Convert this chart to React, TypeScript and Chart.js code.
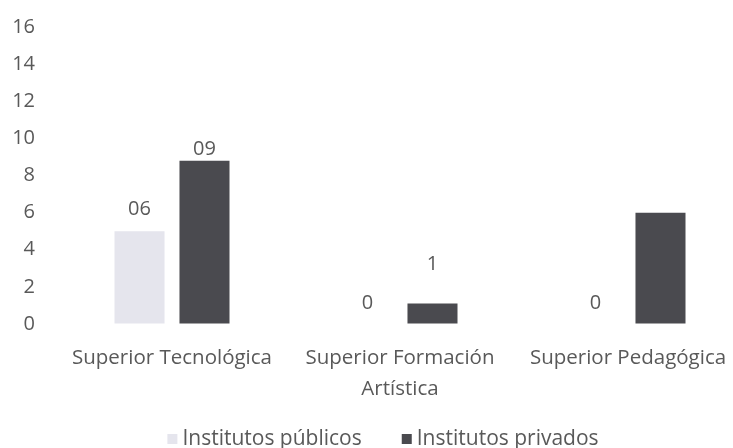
import React, { useEffect, useRef } from "react";
import { Chart, registerables } from "chart.js";

Chart.register(...registerables);

const categories: (string | string[])[] = [
  "Superior Tecnológica",
  ["Superior Formación", "Artística"],
  "Superior Pedagógica",
];
const seriesNames = ["Institutos públicos", "Institutos privados"];
const publicValues = [5.0, 0, 0];
const privateValues = [8.8, 1.1, 6.0];
const publicLabels = ["06", "0", "0"];
const privateLabels = ["09", "1", ""];
const publicLabelAt = [6.2, 1.1, 1.1];
const privateLabelAt = [9.4, 3.2, 0];
const yTicksMax = 16;
const yTicksStep = 2;

const FONT = "'Open Sans', sans-serif";
const TEXT = "#595959";
const W = 770;
const H = 448;
const LEGEND_PAD = 24;

const labelPlugin = {
  id: "manualLabels",
  afterDatasetsDraw(chart: any) {
    const ctx = chart.ctx;
    const texts = [publicLabels, privateLabels];
    const at = [publicLabelAt, privateLabelAt];
    ctx.save();
    ctx.font = `20px ${FONT}`;
    ctx.fillStyle = TEXT;
    ctx.textAlign = "center";
    ctx.textBaseline = "middle";
    for (let i = 0; i < 2; i++) {
      const meta = chart.getDatasetMeta(i);
      meta.data.forEach((el: any, j: number) => {
        const t = texts[i][j];
        if (!t) return;
        ctx.fillText(t, el.x, chart.scales.y.getPixelForValue(at[i][j]));
      });
    }
    ctx.restore();
  },
};

const legendPlugin = {
  id: "bottomLegend",
  afterDraw(chart: any) {
    const ctx = chart.ctx;
    const box = 10;
    const gap = 5;
    const itemGap = 40;
    ctx.save();
    ctx.font = `21px ${FONT}`;
    ctx.textBaseline = "middle";
    ctx.textAlign = "left";
    const items = chart.data.datasets.map((d: any) => ({
      text: d.label,
      color: d.backgroundColor,
      w: ctx.measureText(d.label).width,
    }));
    const total =
      items.reduce((s: number, it: any) => s + box + gap + it.w, 0) +
      itemGap * (items.length - 1);
    let x = (chart.width - total) / 2 - 2;
    const y = chart.height - 9;
    items.forEach((it: any) => {
      ctx.fillStyle = it.color;
      ctx.fillRect(x, y - box / 2, box, box);
      ctx.fillStyle = TEXT;
      ctx.fillText(it.text, x + box + gap, y);
      x += box + gap + it.w + itemGap;
    });
    ctx.restore();
  },
};

export default function App() {
  const ref = useRef<HTMLCanvasElement>(null);
  useEffect(() => {
    document.documentElement.style.overflow = "hidden";
    document.body.style.margin = "0";
    document.body.style.overflow = "hidden";
    const chart = new Chart(ref.current!, {
      type: "bar",
      data: {
        labels: categories,
        datasets: [
          {
            label: seriesNames[0],
            data: publicValues,
            backgroundColor: "#e5e5ed",
            categoryPercentage: 0.57,
            barPercentage: 0.77,
          },
          {
            label: seriesNames[1],
            data: privateValues,
            backgroundColor: "#4a4a4f",
            categoryPercentage: 0.57,
            barPercentage: 0.77,
          },
        ],
      },
      options: {
        animation: false,
        responsive: false,
        layout: { padding: { left: 0, right: W - 742, top: 0, bottom: LEGEND_PAD } },
        plugins: {
          tooltip: { enabled: false },
          legend: { display: false },
        },
        scales: {
          x: {
            grid: { display: false, drawTicks: false },
            border: { display: false },
            ticks: {
              font: { family: FONT, size: 20.5, lineHeight: 1.5 },
              color: TEXT,
              padding: 19,
              maxRotation: 0,
              autoSkip: false,
            },
            afterFit(scale: any) {
              scale.height = H - LEGEND_PAD - 324;
            },
          },
          y: {
            min: 0,
            max: yTicksMax,
            grid: {
              display: true,
              drawOnChartArea: false,
              drawTicks: true,
              tickLength: 8,
              color: "rgba(0,0,0,0)",
            },
            border: { display: false },
            ticks: {
              stepSize: yTicksStep,
              font: { family: FONT, size: 20 },
              color: TEXT,
              padding: 15,
            },
            afterFit(scale: any) {
              scale.width = 58;
            },
          },
        },
      },
      plugins: [labelPlugin, legendPlugin],
    });
    return () => chart.destroy();
  }, []);
  return (
    <div style={{ position: "absolute", left: 0, top: 0, width: W, height: H }}>
      <canvas ref={ref} width={W} height={H} />
    </div>
  );
}
